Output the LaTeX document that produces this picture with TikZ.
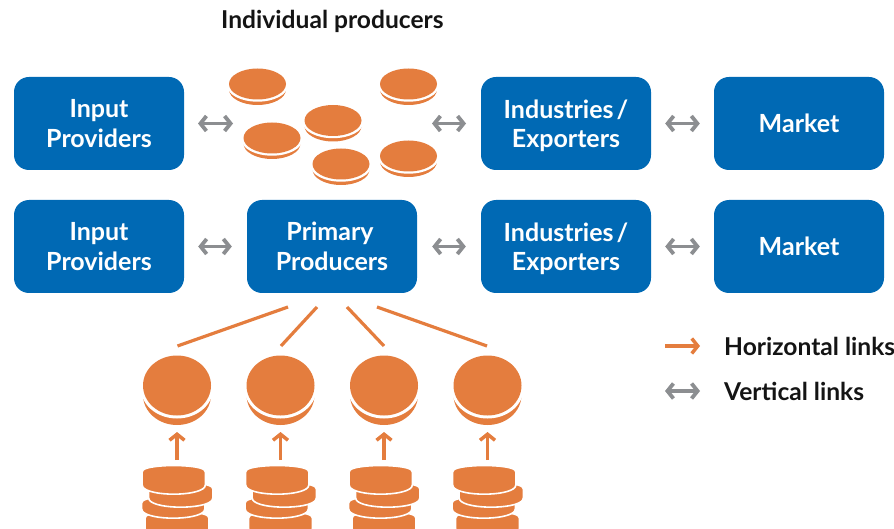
\documentclass[tikz,border=0pt]{standalone}
\usepackage{fontspec}
\setmainfont{Lato}
\usetikzlibrary{arrows.meta}
\definecolor{boxblue}{HTML}{0069B4}
\definecolor{coinorange}{HTML}{E47D3E}
\definecolor{linkgray}{HTML}{8C8E91}
\newcommand{\flatcoin}[2]{%
  \fill[coinorange] (#1,#2+5.5) ellipse [x radius=28.5,y radius=15.5];
  \fill[white] (#1,#2+2.2) ellipse [x radius=30,y radius=15.5];
  \fill[coinorange] (#1,#2) ellipse [x radius=28.5,y radius=15.5];}
\newcommand{\bigcoin}[2]{%
  \fill[coinorange] (#1,#2+9.5) ellipse [x radius=34,y radius=30];
  \fill[white] (#1,#2+3) ellipse [x radius=36,y radius=30];
  \fill[coinorange] (#1,#2) ellipse [x radius=34,y radius=30];}
\newcommand{\layer}[4]{%
  \filldraw[coinorange,draw=white,line width=1.6,rounded corners=1.5] (#1,#3+5) .. controls (#1+8,#3-2) and (#2-8,#3-2) .. (#2,#3+5)
    -- (#2,#4-8) .. controls (#2-8,#4+2.5) and (#1+8,#4+2.5) .. (#1,#4-8) -- cycle;}
\newcommand{\stack}[1]{%
  \begin{scope}
  \clip (#1-40,460) rectangle (#1+40,529);
  \layer{#1-32}{#1+32}{512}{538}
  \layer{#1-35.5}{#1+28}{497}{518}
  \layer{#1-28.5}{#1+36}{483}{507}
  \layer{#1-35}{#1+28.5}{466}{494}
  \end{scope}}
\tikzset{
  stagebox/.style={fill=boxblue,rounded corners=15,minimum width=170,minimum height=93,inner sep=0,
    text=white,align=center,font=\fontsize{25}{29.5}\selectfont\bfseries},
  vlink/.style={draw=linkgray,line width=3.8,{Straight Barb[length=6,width=15,line width=3.8]}-{Straight Barb[length=6,width=15,line width=3.8]}},
  hlink/.style={draw=coinorange,line width=3.5,-{Straight Barb[length=6,width=15,line width=3.5]}},
  tie/.style={draw=coinorange,line width=3.2},
  heading/.style={inner sep=0,anchor=west,text=black!92,font=\fontsize{24.6}{29}\selectfont\bfseries},
}
\begin{document}
\begin{tikzpicture}[x=1pt,y=-1pt]
\useasboundingbox (0,0) rectangle (894,529);
\node[stagebox] (ip1) at (99,123.5) {Input\\Providers};
\node[stagebox,text depth=0pt] (ie1) at (566,123.5) {Industries\hspace{3pt}/\\Exporters};
\node[stagebox] (mk1) at (799,123.5) {Market};
\node[stagebox] (ip2) at (99,246.5) {Input\\Providers};
\node[stagebox] (pp) at (332,246.5) {Primary\hspace*{4pt}\\Producers};
\node[stagebox,text depth=0pt] (ie2) at (566,246.5) {Industries\hspace{3pt}/\\Exporters};
\node[stagebox] (mk2) at (799,246.5) {Market};
\node[heading] (title) at (221,21) {Individual producers};
\node[heading] (hl) at (724,346) {Horizontal links};
\node[heading] (vl) at (724,391) {Vertical links};
\flatcoin{257.5}{84}
\flatcoin{408.5}{84}
\flatcoin{272}{138}
\flatcoin{333}{120.5}
\flatcoin{341}{164}
\flatcoin{408.5}{156}
\coordinate (gl1) at (233,123.5);
\coordinate (gr1) at (198,123.5);
\coordinate (gl2) at (466,123.5);
\coordinate (gr2) at (432,123.5);
\draw[vlink] (gr1) -- (gl1);
\draw[vlink] (gr2) -- (gl2);
\draw[vlink,shorten <=14,shorten >=14] (ie1) -- (mk1);
\draw[vlink,shorten <=14,shorten >=15] (ip2) -- (pp);
\draw[vlink,shorten <=15,shorten >=15] (pp) -- (ie2);
\draw[vlink,shorten <=14,shorten >=14] (ie2) -- (mk2);
\foreach \n/\x in {a/177,b/280.5,c/384,d/487.5}{
  \bigcoin{\x}{385.5}
  \stack{\x}
  \coordinate (src\n) at (\x,460);
  \coordinate (dst\n) at (\x,432);
  \draw[hlink] (src\n) -- (dst\n);
}
\coordinate (ta) at (288,307); \coordinate (tb) at (317,307);
\coordinate (tc) at (347,307); \coordinate (td) at (377,307);
\coordinate (ba) at (177.5,346); \coordinate (bb) at (281,346);
\coordinate (bc) at (384,346); \coordinate (bd) at (487,346);
\draw[tie] (ta) -- (ba);
\draw[tie] (tb) -- (bb);
\draw[tie] (tc) -- (bc);
\draw[tie] (td) -- (bd);
\coordinate (ho) at (665,346);
\coordinate (he) at (700,346);
\coordinate (ve) at (665,391);
\coordinate (vf) at (700,391);
\draw[hlink] (ho) -- (he);
\draw[vlink] (ve) -- (vf);
\end{tikzpicture}
\end{document}
